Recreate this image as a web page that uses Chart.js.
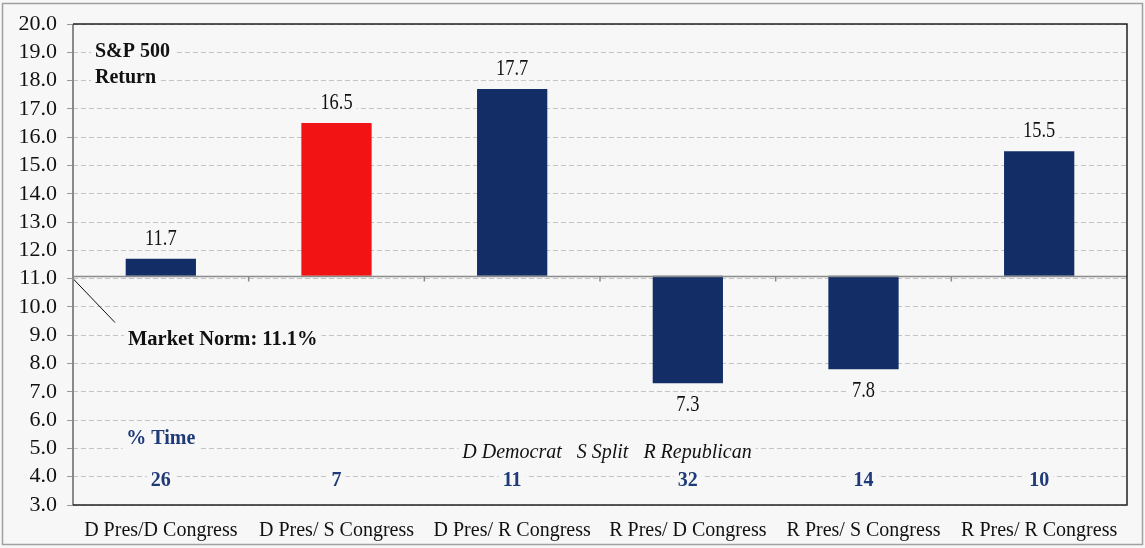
<!DOCTYPE html>
<html>
<head>
<meta charset="utf-8">
<script src="https://cdn.jsdelivr.net/npm/chart.js@4"></script>
<style>
  html, body { margin: 0; padding: 0; background: #f7f7f7; }
  #wrap { width: 1145px; height: 548px; }
</style>
</head>
<body>
<div id="wrap"><canvas id="returns"></canvas></div>
<script>
// S&P 500 return by party control - floating bars around the market norm
const categories = [
  'D Pres/D Congress',
  'D Pres/ S Congress',
  'D Pres/ R Congress',
  'R Pres/ D Congress',
  'R Pres/ S Congress',
  'R Pres/ R Congress'
];
const marketNorm = 11.1;
const returns = [11.7, 16.5, 17.7, 7.3, 7.8, 15.5];
const pctTime = [26, 7, 11, 32, 14, 10];
const barColors = ['#132d66', '#f21414', '#132d66', '#132d66', '#132d66', '#132d66'];

const BG = '#f7f7f7';
const SERIF = '"Liberation Serif", "Times New Roman", serif';

// draws text with a background box so gridlines look cut behind it
function boxedText(ctx, txt, x, y, font, color, align, sx) {
  sx = sx || 1;
  ctx.save();
  ctx.font = font;
  ctx.textAlign = align || 'center';
  ctx.textBaseline = 'middle';
  const w = ctx.measureText(txt).width * sx;
  let left = x - w / 2;
  if (ctx.textAlign === 'left') left = x;
  ctx.fillStyle = BG;
  ctx.fillRect(left - 4, y - 11, w + 8, 22);
  ctx.fillStyle = color;
  ctx.translate(x, y);
  ctx.scale(sx, 1);
  ctx.fillText(txt, 0, 0);
  ctx.restore();
}

function labelY(chart, v) {
  const y = chart.scales.y;
  return v >= marketNorm ? y.getPixelForValue(v) - 20 : y.getPixelForValue(v) + 22;
}

const extras = {
  id: 'extras',
  beforeDraw(chart) {
    const ctx = chart.ctx;
    ctx.save();
    ctx.fillStyle = BG;
    ctx.fillRect(0, 0, chart.width, chart.height);
    ctx.strokeStyle = '#a0a0a0';
    ctx.lineWidth = 1.5;
    ctx.strokeRect(2.5, 3.5, chart.width - 5, chart.height - 7);
    ctx.restore();
  },
  beforeDatasetsDraw(chart) {
    const ctx = chart.ctx;
    const x = chart.scales.x, y = chart.scales.y;
    const a = chart.chartArea;
    ctx.save();
    // value labels (box cuts the gridlines)
    returns.forEach((v, i) => {
      boxedText(ctx, v.toFixed(1), x.getPixelForValue(i), labelY(chart, v), '23px ' + SERIF, '#111', 'center', 0.8);
    });
    // % Time block
    boxedText(ctx, '% Time', x.getPixelForValue(0), y.getPixelForValue(5.33), 'bold 20px ' + SERIF, '#1f3a78');
    pctTime.forEach((p, i) => {
      boxedText(ctx, String(p), x.getPixelForValue(i), y.getPixelForValue(3.85), 'bold 20px ' + SERIF, '#1f3a78');
    });
    boxedText(ctx, 'D Democrat   S Split   R Republican', (x.getPixelForValue(2) + x.getPixelForValue(3)) / 2 + 7,
      y.getPixelForValue(4.84), 'italic 20px ' + SERIF, '#111');
    // S&P 500 Return
    boxedText(ctx, 'S&P 500', a.left + 22, y.getPixelForValue(19.0), 'bold 20px ' + SERIF, '#111', 'left');
    boxedText(ctx, 'Return', a.left + 22, y.getPixelForValue(18.1), 'bold 20px ' + SERIF, '#111', 'left');
    // Market norm callout
    boxedText(ctx, 'Market Norm: 11.1%', a.left + 55, y.getPixelForValue(8.83), 'bold 20.5px ' + SERIF, '#111', 'left');
    ctx.strokeStyle = '#111';
    ctx.lineWidth = 1;
    ctx.beginPath();
    ctx.moveTo(a.left, y.getPixelForValue(11.0));
    ctx.lineTo(a.left + 42, y.getPixelForValue(9.45));
    ctx.stroke();
    ctx.restore();
  },
  afterDatasetsDraw(chart) {
    const ctx = chart.ctx;
    const x = chart.scales.x, y = chart.scales.y;
    const a = chart.chartArea;
    ctx.save();
    // baseline at market norm with category ticks
    const by = Math.round(y.getPixelForValue(marketNorm)) + 0.5;
    ctx.strokeStyle = '#8a8a8a';
    ctx.lineWidth = 1.5;
    ctx.beginPath();
    ctx.moveTo(a.left, by);
    ctx.lineTo(a.right, by);
    for (let i = 0; i < categories.length - 1; i++) {
      const tx = (x.getPixelForValue(i) + x.getPixelForValue(i + 1)) / 2;
      ctx.moveTo(tx, by);
      ctx.lineTo(tx, by + 5);
    }
    ctx.stroke();
    // plot frame
    ctx.strokeStyle = '#8a8a8a';
    ctx.lineWidth = 2;
    ctx.beginPath();
    ctx.moveTo(a.left, a.top);
    ctx.lineTo(a.left, a.bottom);
    ctx.stroke();
    ctx.strokeStyle = '#222';
    ctx.lineWidth = 1.5;
    ctx.beginPath();
    ctx.moveTo(a.left, a.top);
    ctx.lineTo(a.right, a.top);
    ctx.lineTo(a.right, a.bottom);
    ctx.lineTo(a.left, a.bottom);
    ctx.stroke();
    ctx.restore();
  }
};

const dataReturns = {
  labels: categories,
  datasets: [{
    label: 'S&P 500 Return',
    data: returns.map(v => [marketNorm, v]),
    backgroundColor: barColors,
    borderWidth: 0,
    barPercentage: 0.4,
    categoryPercentage: 1.0
  }]
};

const configReturns = {
  type: 'bar',
  data: dataReturns,
  plugins: [extras],
  options: {
    responsive: true,
    maintainAspectRatio: false,
    animation: false,
    layout: { padding: { left: 0, top: 24, right: 18, bottom: 0 } },
    plugins: {
      legend: { display: false },
      tooltip: { enabled: false }
    },
    scales: {
      x: {
        grid: { display: false },
        border: { display: false },
        ticks: {
          color: '#111',
          font: { family: SERIF, size: 20 },
          maxRotation: 0,
          padding: 6
        },
        afterFit(scale) { scale.height = 43; }
      },
      y: {
        min: 3,
        max: 20,
        grid: {
          color: '#c4c4c4',
          lineWidth: 1,
          tickLength: 6,
          tickColor: '#999'
        },
        border: { display: false, dash: [5, 3] },
        ticks: {
          stepSize: 1,
          autoSkip: false,
          color: '#111',
          font: { family: SERIF, size: 22 },
          padding: 10,
          callback: v => v.toFixed(1)
        },
        afterFit(scale) { scale.width = 73; }
      }
    }
  }
};

const ChartReturns = new Chart(
  document.getElementById('returns'),
  configReturns
);
</script>
</body>
</html>
